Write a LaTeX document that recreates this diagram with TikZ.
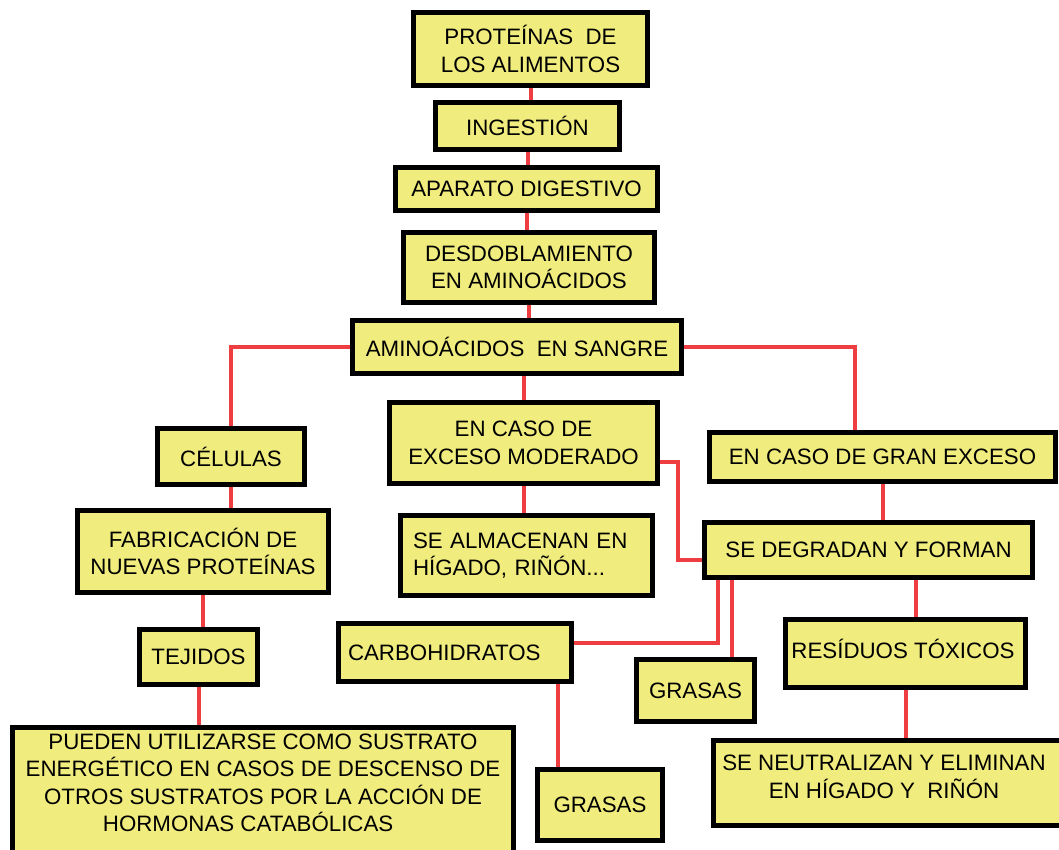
\documentclass[tikz,border=0pt]{standalone}
\usepackage{fontspec}
\setmainfont{Liberation Sans}
\usetikzlibrary{backgrounds}
\definecolor{boxfill}{RGB}{240,236,126}
\definecolor{linkred}{RGB}{238,62,66}
\begin{document}
\begin{tikzpicture}[x=1pt,y=-1pt,
  every node/.style={font=\fontsize{22.3}{27.5}\selectfont},
  box/.style={draw=black, line width=5pt, fill=boxfill, rectangle,
    inner sep=0pt, outer sep=0pt, align=center},
  plain/.style={inner sep=0pt, outer sep=0pt, align=center},
  link/.style={draw=linkred, line width=4pt}]
\useasboundingbox (0,0) rectangle (1059,850);

% central column
\node[box, minimum width=234pt, minimum height=73pt] (prot) at (530.5,49) {PROTEÍNAS\ \ DE\\LOS ALIMENTOS};
\node[box, minimum width=184pt, minimum height=47pt] (ing) at (527.5,126) {INGESTIÓN};
\node[box, minimum width=262pt, minimum height=43pt] (apa) at (526.5,189) {APARATO DIGESTIVO};
\node[box, minimum width=251pt, minimum height=70pt] (des) at (529,267.5) {DESDOBLAMIENTO\\EN AMINOÁCIDOS};
\node[box, minimum width=329pt, minimum height=53pt] (ami) at (517,347) {AMINOÁCIDOS\ \ EN SANGRE};

% left branch
\node[box, minimum width=147pt, minimum height=56pt] (cel) at (231,456.5) {CÉLULAS};
\node[box, minimum width=251pt, minimum height=82pt] (fab) at (203,551.5) {FABRICACIÓN DE\\NUEVAS PROTEÍNAS};
\node[box, minimum width=118pt, minimum height=55pt] (tej) at (198.5,657) {TEJIDOS};
\node[box, minimum width=501pt, minimum height=140pt] (pue) at (263,797.5) {};
\node[plain] (puetxt) at (263,783) {PUEDEN UTILIZARSE COMO SUSTRATO\\ENERGÉTICO EN CASOS DE DESCENSO DE\\OTROS SUSTRATOS POR LA ACCIÓN DE\\HORMONAS CATABÓLICAS\phantom{AA}};

% middle branch
\node[box, minimum width=268pt, minimum height=81pt] (mod) at (523.5,443) {EN CASO DE\\EXCESO MODERADO};
\node[box, text width=227pt, inner xsep=12.5pt, align=left, minimum height=80pt] (alm) at (526.5,555.5) {SE ALMACENAN EN\\HÍGADO, RIÑÓN...};
\node[box, text width=214pt, inner xsep=9.5pt, align=left, minimum height=58pt] (carb) at (455,652.5) {CARBOHIDRATOS};
\node[box, minimum width=125pt, minimum height=71pt] (gra2) at (600,805) {GRASAS};

% right branch
\node[box, minimum width=346pt, minimum height=49pt] (gran) at (882.5,457) {EN CASO DE GRAN EXCESO};
\node[box, minimum width=328pt, minimum height=55pt] (deg) at (868.5,550) {SE DEGRADAN Y FORMAN};
\node[box, minimum width=118pt, minimum height=62pt] (gra1) at (695.5,690.5) {GRASAS};
\node[box, minimum width=240pt, minimum height=68pt] (res) at (905.5,653.5) {};
\node[plain] (restxt) at (903,648.5) {RESÍDUOS TÓXICOS};
\node[box, minimum width=364pt, minimum height=85pt] (neu) at (895.5,783) {};
\node[plain] (neutxt) at (884,777) {SE NEUTRALIZAN Y ELIMINAN\\EN HÍGADO Y\ \ RIÑÓN};

% attachment points on box edges
\coordinate (dA) at ([xshift=13.5pt]deg.south west);
\coordinate (dB) at ([xshift=27.5pt]deg.south west);
\coordinate (rA) at ([xshift=10pt]res.north);
\coordinate (cA) at ([xshift=-13.5pt]carb.south east);
\coordinate (gA) at ([xshift=-27.5pt]gran.north);

\begin{scope}[on background layer]
  \fill[white] (0,0) rectangle (1059,850);
  \draw[link] (prot.south) -- (prot.south |- ing.north);
  \draw[link] (ing.south) -- (ing.south |- apa.north);
  \draw[link] (apa.south) -- (apa.south |- des.north);
  \draw[link] (des.south) -- (des.south |- ami.north);
  \draw[link] (ami.west) -| (cel.north);
  \draw[link] (ami.east) -| (gA);
  \draw[link] (mod.north) -- (mod.north |- ami.south);
  \draw[link] (cel.south) -- (cel.south |- fab.north);
  \draw[link] (fab.south) -- (fab.south |- tej.north);
  \draw[link] (tej.south) -- (tej.south |- pue.north);
  \draw[link] (mod.south) -- (mod.south |- alm.north);
  \draw[link] ([yshift=-19pt]mod.east) -- ++(20.5,0) |- ([yshift=-10pt]deg.west);
  \draw[link] (gran.south) -- (gran.south |- deg.north);
  \draw[link] (dA) |- ([yshift=10pt]carb.east);
  \draw[link] (dB) -- (dB |- gra1.north);
  \draw[link] (rA) -- (rA |- deg.south);
  \draw[link] (res.south) -- (res.south |- neu.north);
  \draw[link] (cA) -- (cA |- gra2.north);
\end{scope}
\end{tikzpicture}
\end{document}
